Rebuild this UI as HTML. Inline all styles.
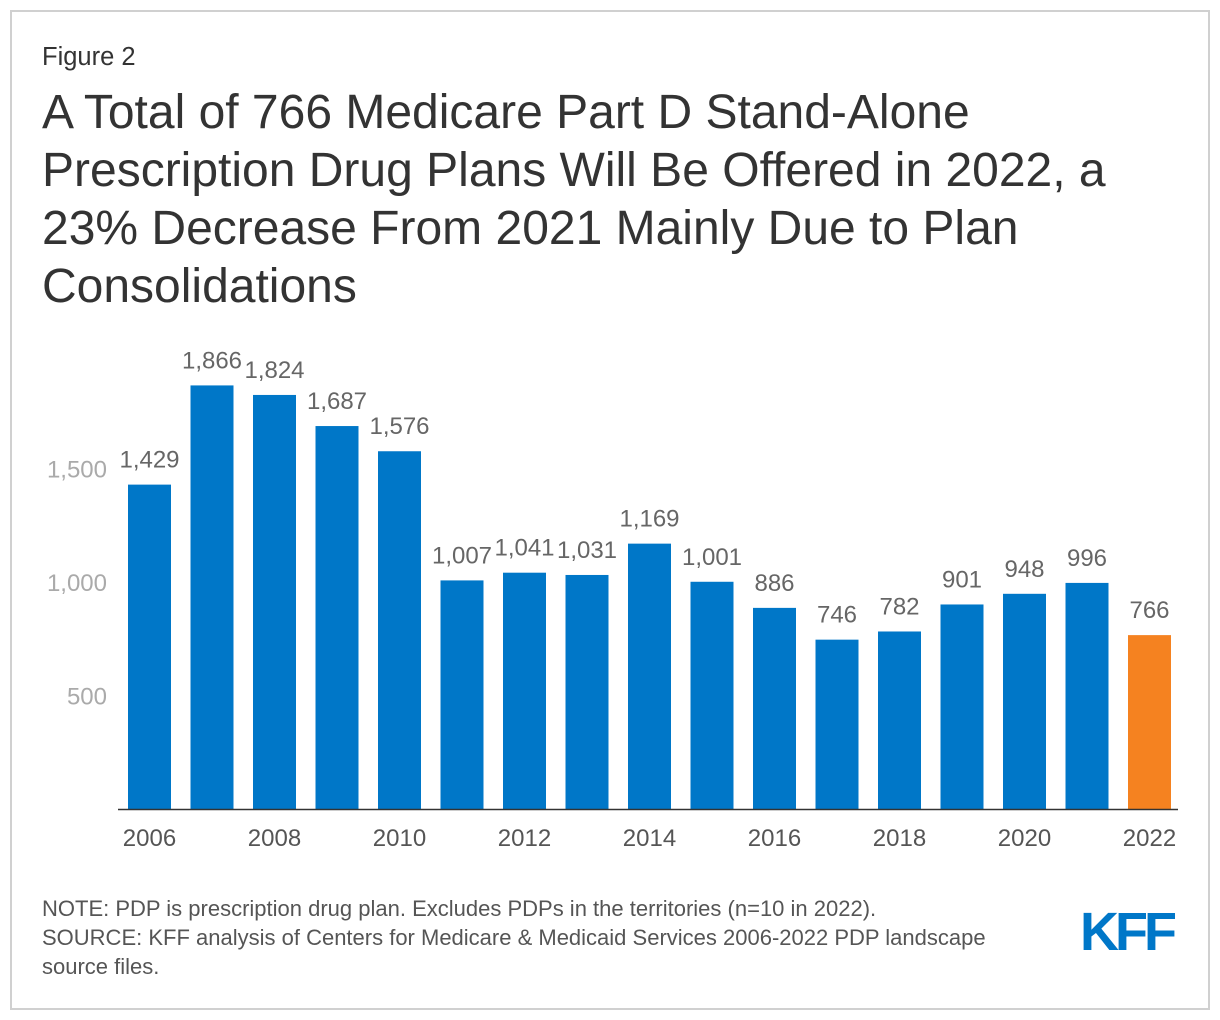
<!DOCTYPE html>
<html><head><meta charset="utf-8"><style>
body{margin:0;background:#fff;font-family:"Liberation Sans",sans-serif;}
#frame{position:absolute;left:10px;top:10px;width:1196px;height:996px;border:2px solid #d0d0d0;}
.t{position:absolute;color:#333;white-space:nowrap;}
</style></head><body>
<div id="frame"></div>
<div class="t" style="left:42px;top:43px;font-size:25.5px;">Figure 2</div>
<div class="t" style="left:42px;top:84px;font-size:48px;line-height:58px;">A Total of 766 Medicare Part D Stand-Alone<br>Prescription Drug Plans Will Be Offered in 2022, a<br>23% Decrease From 2021 Mainly Due to Plan<br>Consolidations</div>
<svg id="chart" width="1220" height="1020" style="position:absolute;left:0;top:0"></svg>
<div class="t" style="left:42px;top:894px;font-size:22px;line-height:29px;color:#555;">NOTE: PDP is prescription drug plan. Excludes PDPs in the territories (n=10 in 2022).<br>SOURCE: KFF analysis of Centers for Medicare &amp; Medicaid Services 2006-2022 PDP landscape<br>source files.</div>
<div class="t" style="left:1080px;top:901px;font-size:54px;font-weight:bold;color:#0077c8;letter-spacing:-4px;">KFF</div>
<script>
const years=[2006,2007,2008,2009,2010,2011,2012,2013,2014,2015,2016,2017,2018,2019,2020,2021,2022];
const values=[1429,1866,1824,1687,1576,1007,1041,1031,1169,1001,886,746,782,901,948,996,766];
const yTicks=[500,1000,1500];
const svg=document.getElementById('chart');
const NS='http://www.w3.org/2000/svg';
const y=v=>809-v*0.227;
const x=i=>128+i*62.5;
function el(t,a){const e=document.createElementNS(NS,t);for(const k in a)e.setAttribute(k,a[k]);svg.appendChild(e);return e;}
yTicks.forEach(v=>{const t=el('text',{x:107,y:y(v)+9,'text-anchor':'end','font-size':24,fill:'#aaa','font-family':'Liberation Sans'});t.textContent=v.toLocaleString('en-US');

});
values.forEach((v,i)=>{
const r=el('rect',{x:x(i),y:y(v),width:43,height:809-y(v),fill:i===values.length-1?'#f58220':'#0077c8'});


const t=el('text',{x:x(i)+21.5,y:y(v)-17,'text-anchor':'middle','font-size':24,fill:'#666','font-family':'Liberation Sans'});t.textContent=v.toLocaleString('en-US');


if(i%2===0){const l=el('text',{x:x(i)+21.5,y:846,'text-anchor':'middle','font-size':24,fill:'#555','font-family':'Liberation Sans'});l.textContent=years[i];

}
});
const ax=el('line',{x1:118,x2:1178,y1:809.5,y2:809.5,stroke:'#333','stroke-width':1.5});


</script>
</body></html>
